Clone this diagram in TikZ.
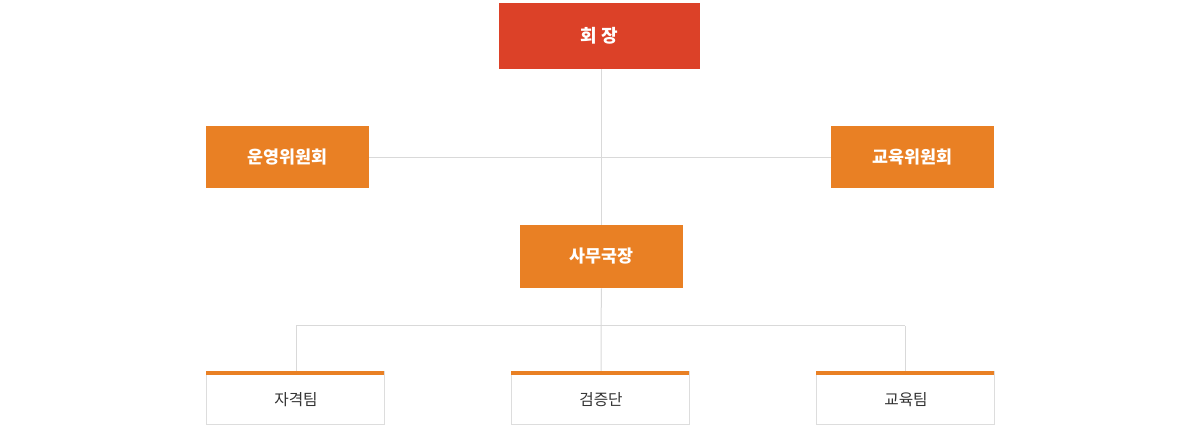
\documentclass[tikz,border=0pt]{standalone}
\usepackage{fontspec}
\newfontfamily\kr{Noto Sans CJK KR}
\definecolor{chair}{HTML}{DC4128}
\definecolor{org}{HTML}{E98024}
\definecolor{ln}{HTML}{D9D9D9}
\definecolor{bd}{HTML}{DDDDDD}
\definecolor{tx}{HTML}{333333}
\begin{document}
\begin{tikzpicture}[x=0.75pt,y=-0.75pt,
  topbox/.style={fill=chair,draw=none,text=white,font=\kr\bfseries\fontsize{13.5}{15}\selectfont,inner sep=0pt},
  obox/.style={fill=org,draw=none,text=white,font=\kr\bfseries\fontsize{13}{15}\selectfont,inner sep=0pt},
  tbox/.style={fill=white,draw=bd,text=tx,font=\kr\fontsize{11.8}{13}\selectfont,inner sep=0pt,text depth=0pt},
  conn/.style={draw=ln,line width=0.75pt}]
\useasboundingbox (0,0) rectangle (1200,427);
\coordinate (jL) at (296,326);
\coordinate (jR) at (905,326);
\coordinate (jM) at (601,326);
\node[topbox,minimum width=201*0.75pt,minimum height=66*0.75pt] (ch) at (599.5,36) {회 장};
\node[obox,minimum width=163*0.75pt,minimum height=62*0.75pt] (op) at (287.5,157) {운영위원회};
\node[obox,minimum width=163*0.75pt,minimum height=62*0.75pt] (ed) at (912.5,157) {교육위원회};
\node[obox,minimum width=163*0.75pt,minimum height=63*0.75pt] (sg) at (601.5,256.5) {사무국장};
\node[tbox,minimum width=178*0.75pt,minimum height=53*0.75pt] (t1) at (295,398) {};
\node[tbox,minimum width=178*0.75pt,minimum height=53*0.75pt] (t2) at (600,398) {};
\node[tbox,minimum width=178*0.75pt,minimum height=53*0.75pt] (t3) at (905,398) {};
\node[font=\kr\fontsize{11.8}{13}\selectfont,text=tx,inner sep=0pt] (l1) at (296,400) {자격팀};
\node[font=\kr\fontsize{11.8}{13}\selectfont,text=tx,inner sep=0pt] (l2) at (601,400) {검증단};
\node[font=\kr\fontsize{11.8}{13}\selectfont,text=tx,inner sep=0pt] (l3) at (906,400) {교육팀};
\path[conn] (ch.south -| sg.north) -- (sg.north);
\path[conn] ([yshift=-1*0.75pt]op.east) -- ([yshift=-1*0.75pt]ed.west);
\path[conn] (sg.south) -- (jM) -- (t2.north -| jM);
\path[conn] (jL) -- (jR);
\path[conn] (jL) -- (t1.north -| jL);
\path[conn] (jR) -- (t3.north -| jR);
\foreach \n in {t1,t2,t3}{
  \fill[org] (\n.north west) rectangle ([yshift=-4*0.75pt]\n.north east);
}
\end{tikzpicture}
\end{document}
